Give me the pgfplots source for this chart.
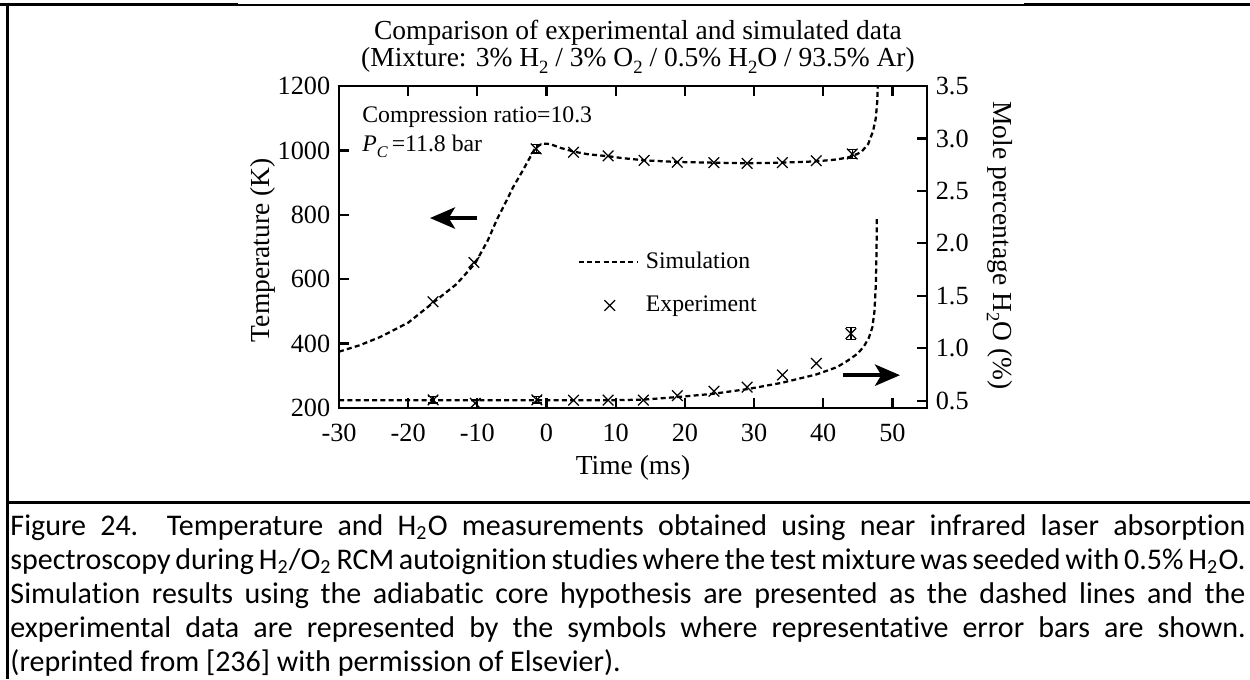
\documentclass[border=0pt]{standalone}
\usepackage{pgfplots}
\pgfplotsset{compat=1.18}
\usepackage{pgfplotstable}
\usepackage{fontspec}
\setmainfont{Liberation Serif}
\newfontfamily\capfont{Carlito}[Ligatures=NoCommon]
\usetikzlibrary{arrows.meta}

% lowered subscript for the figure text
\newcommand\sub[1]{\raisebox{-0.55ex}{\fontsize{7.5}{8}\selectfont #1}}
\newcommand\smallsub[1]{\raisebox{-0.55ex}{\fontsize{6.5}{7}\selectfont #1}}

% simulated temperature (K)
\pgfplotstableread{
t T
-30 375
-27 395
-24 421
-20 465
-16.4 527
-13 585
-10.3 650
-8.5 720
-7.2 784
-6 835
-4.8 887
-3.5 935
-2.4 978
-1.5 1012
-0.5 1021
0.5 1020
2 1008
4 996
6 988
8.9 982
11 976
14.3 969
19 964
24 962
29 960
34 962
39 966
42 972
44 980
45.5 995
46.5 1020
47.2 1060
47.6 1100
47.8 1150
47.95 1250
}\simT

% measured temperature (K)
\pgfplotstableread{
t T
-16.4 530
-10.5 652
3.9 994
8.9 983
14.1 969
18.9 963
24.2 962
29.0 960
34.1 962
39.0 968
}\expT

% simulated H2O mole percentage
\pgfplotstableread{
t H
-30 0.505
0 0.505
10 0.505
14 0.51
17 0.525
19 0.535
24 0.565
29 0.61
34 0.67
39 0.75
42 0.82
43.5 0.88
45 0.95
45.9 1.02
46.6 1.10
47.1 1.20
47.4 1.35
47.6 1.60
47.7 1.90
47.75 2.25
}\simH

% measured H2O mole percentage
\pgfplotstableread{
t H
-10.3 0.475
3.9 0.505
8.9 0.505
14.0 0.505
18.9 0.548
24.2 0.590
29.0 0.630
34.1 0.745
39.0 0.856
}\expH

\pgfplotsset{
  frame/.style={
    at={(135.6pt,-163.2pt)}, anchor=south west,
    width=235.2pt, height=128.8pt, scale only axis,
    xmin=-30, xmax=55,
    axis line style={line width=1pt},
    every tick/.style={line width=0.9pt, black},
    major tick length=4pt,
    tick label style={font=\fontsize{10.5}{12}\selectfont},
    label style={font=\fontsize{11}{13}\selectfont},
    /pgf/number format/assume math mode=true,
    /pgf/number format/1000 sep={},
  },
  sim/.style={black, line width=0.9pt, dash pattern=on 2pt off 1.3pt, no marks},
  meas/.style={black, only marks, mark=x, mark size=3pt, mark options={line width=0.5pt}},
  bars/.style={meas, forget plot,
    error bars/.cd, y dir=both, y explicit,
    error bar style={line width=0.5pt},
    error mark options={rotate=90, mark size=2pt, line width=0.5pt}},
  simleg/.style={legend image code/.code={\draw[##1] (0pt,0pt) -- (23.2pt,0pt);}},
  measleg/.style={legend image code/.code={\draw[mark repeat=2, mark phase=2, ##1]
    plot coordinates {(0pt,0pt) (12.4pt,0pt) (24.8pt,0pt)};}},
}

\begin{document}
\begin{tikzpicture}
\useasboundingbox (0,0) rectangle (500pt,-271.6pt);

% table frame around figure and caption
\draw[line width=1.2pt] (0,-1.6pt) -- (95.2pt,-1.6pt);
\draw[line width=0.6pt] (95.2pt,-1.9pt) -- (409.6pt,-1.9pt);
\draw[line width=1.2pt] (409.6pt,-1.6pt) -- (500pt,-1.6pt);
\draw[line width=1.2pt] (3pt,-1pt) -- (3pt,-271.6pt);
\draw[line width=1.2pt] (2.4pt,-200.8pt) -- (500pt,-200.8pt);

% figure title
\node[anchor=base, font=\fontsize{11}{13}\selectfont, inner sep=0pt] at (255.2pt,-15.6pt)
  {Comparison of experimental and simulated data};
\node[anchor=base, font=\fontsize{11}{13}\selectfont, inner sep=0pt] at (255.2pt,-26.6pt)
  {(Mixture: 3\% H\sub{2} / 3\% O\sub{2} / 0.5\% H\sub{2}O / 93.5\% Ar)};

\begin{axis}[frame,
  ymin=200, ymax=1200,
  xtick={-30,-20,...,50}, ytick={200,400,...,1200},
  ytick pos=left,
  xticklabel style={yshift=-2.8pt},
  xlabel={Time (ms)}, ylabel={Temperature (K)},
  xlabel style={at={(axis description cs:0.5,-0.185)}, anchor=center},
  ylabel style={at={(axis description cs:-0.129,0.49)}, anchor=center, rotate=0},
  legend style={draw=none, fill=none, at={(axis description cs:0.405,0.49)}, anchor=north west,
    inner sep=0pt, row sep=8.4pt, column sep=3.2pt,
    font=\fontsize{9.5}{11}\selectfont,
    nodes={inner sep=0pt, text height=7pt, text depth=2pt}},
  legend cell align=left,
]
\addplot[sim, simleg] table[x=t, y=T] {\simT};
\addlegendentry{Simulation}
\addplot[meas, measleg] table[x=t, y=T] {\expT};
\addlegendentry{Experiment}
\addplot[bars] coordinates {(-1.5,1005) +- (0,13) (44.2,989) +- (0,13)};

\node[anchor=base west, inner sep=0pt, font=\fontsize{9.5}{11}\selectfont]
  at (axis cs:-26.7,1088) {Compression ratio=10.3};
\node[anchor=base west, inner sep=0pt, font=\fontsize{9.5}{11}\selectfont]
  at (axis cs:-26.7,998) {\textit{P}\smallsub{\textit{C}}\,=11.8 bar};

\draw[line width=1.6pt, -{Stealth[length=10pt, width=8.5pt, inset=2.5pt]}]
  (axis cs:-10.05,790) -- (axis cs:-16.85,790);
\draw[line width=1.6pt, -{Stealth[length=10pt, width=8.5pt, inset=2.5pt]}]
  (axis cs:42.86,302) -- (axis cs:51.1,302);
\end{axis}

\begin{axis}[frame,
  ymin=0.43, ymax=3.5,
  axis y line*=right, axis x line=none,
  ytick={0.5,1.0,...,3.5},
  yticklabel style={/pgf/number format/.cd, fixed, fixed zerofill, precision=1},
  ylabel={Mole percentage H\sub{2}O (\%)},
  ylabel style={at={(axis description cs:1.124,0.505)}, anchor=center, rotate=180},
]
\addplot[sim] table[x=t, y=H] {\simH};
\addplot[meas] table[x=t, y=H] {\expH};
\addplot[bars] coordinates {(-16.4,0.507) +- (0,0.03) (-1.4,0.507) +- (0,0.03) (44.0,1.14) +- (0,0.055)};
\end{axis}

% caption
\begin{scope}[every node/.style={anchor=base west, inner sep=0pt, font=\capfont\fontsize{12}{14.6}\selectfont}]
\node at (4pt,-214pt) {\makebox[494pt][s]{Figure 24.\ \ Temperature and H\textsubscript{2}O measurements obtained using near infrared laser absorption}};
\node at (4pt,-227.6pt) {\makebox[494pt][s]{spectroscopy during H\textsubscript{2}/O\textsubscript{2} RCM autoignition studies where the test mixture was seeded with 0.5\% H\textsubscript{2}O.}};
\node at (4pt,-241.2pt) {\makebox[494pt][s]{Simulation results using the adiabatic core hypothesis are presented as the dashed lines and the}};
\node at (4pt,-254.8pt) {\makebox[494pt][s]{experimental data are represented by the symbols where representative error bars are shown.}};
\node at (4pt,-268.4pt) {(reprinted from [236] with permission of Elsevier).};
\end{scope}
\end{tikzpicture}
\end{document}
